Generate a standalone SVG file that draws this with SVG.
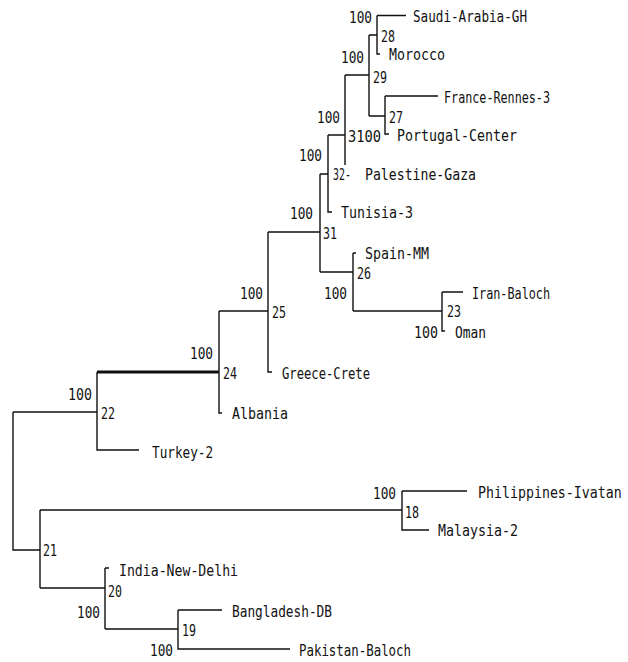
<svg xmlns="http://www.w3.org/2000/svg" width="628" height="662" viewBox="0 0 628 662">
<style>
text{font-family:"DejaVu Sans Mono","Liberation Mono",monospace;font-size:16px;fill:#111}
.c line,.c path{stroke:#111;stroke-width:1.4;fill:none}
.thick{stroke-width:2.8 !important}
</style>
<rect width="628" height="662" fill="#fff"/>
<g class="c" id="connectors">
<path d="M377,15.5H406 M377,15.5V54H380 M369,35H377 M369,35V116 M345,75H369 M369,116H385 M385,96H438 M385,96V134H389"/>
<path d="M345,75V165 M328,135H345 M328,135V212H332 M320,174H328 M320,174V272 M268,232H320 M320,272H353"/>
<path d="M353,253H356 M353,253V311 M353,311H442 M442,292H463 M442,292V331H445"/>
<path d="M268,232V372H272 M219,311H268 M219,311V413H222 M97,372V450H139 M13,412H97 M13,412V550H40"/>
<line class="thick" x1="97" y1="372" x2="219" y2="372"/>
<path d="M40,510V588 M40,510H402 M402,491H467 M402,491V530H429 M40,588H105 M105,568H109 M105,568V629 M105,629H178 M178,610H222 M178,610V649H290"/>
</g>
<g id="n28"><text x="349" y="23" textLength="23" lengthAdjust="spacingAndGlyphs">100</text><text x="381" y="42" textLength="14" lengthAdjust="spacingAndGlyphs">28</text></g>
<g id="saudi"><text x="413" y="22" textLength="114" lengthAdjust="spacingAndGlyphs">Saudi-Arabia-GH</text></g>
<g id="morocco"><text x="389" y="60" textLength="56" lengthAdjust="spacingAndGlyphs">Morocco</text></g>
<g id="n29"><text x="341" y="63" textLength="23" lengthAdjust="spacingAndGlyphs">100</text><text x="373" y="83" textLength="14" lengthAdjust="spacingAndGlyphs">29</text></g>
<g id="n27"><text x="389" y="123" textLength="14" lengthAdjust="spacingAndGlyphs">27</text></g>
<g id="france"><text x="444" y="103" textLength="106" lengthAdjust="spacingAndGlyphs">France-Rennes-3</text></g>
<g id="portugal"><text x="397" y="141" textLength="120" lengthAdjust="spacingAndGlyphs">Portugal-Center</text></g>
<g id="n30"><text x="317" y="123" textLength="23" lengthAdjust="spacingAndGlyphs">100</text><text x="348" y="142" textLength="33" lengthAdjust="spacingAndGlyphs">3100</text></g>
<g id="n32"><text x="299" y="161" textLength="23" lengthAdjust="spacingAndGlyphs">100</text><text x="333" y="180" textLength="18" lengthAdjust="spacingAndGlyphs">32-</text></g>
<g id="palestine"><text x="365" y="180" textLength="111" lengthAdjust="spacingAndGlyphs">Palestine-Gaza</text></g>
<g id="tunisia"><text x="341" y="218" textLength="72" lengthAdjust="spacingAndGlyphs">Tunisia-3</text></g>
<g id="n31"><text x="290" y="219" textLength="23" lengthAdjust="spacingAndGlyphs">100</text><text x="323" y="239" textLength="14" lengthAdjust="spacingAndGlyphs">31</text></g>
<g id="spain"><text x="365" y="259" textLength="64" lengthAdjust="spacingAndGlyphs">Spain-MM</text></g>
<g id="n26"><text x="324" y="299" textLength="23" lengthAdjust="spacingAndGlyphs">100</text><text x="357" y="279" textLength="14" lengthAdjust="spacingAndGlyphs">26</text></g>
<g id="iran"><text x="472" y="299" textLength="78" lengthAdjust="spacingAndGlyphs">Iran-Baloch</text></g>
<g id="n23"><text x="414" y="338" textLength="24" lengthAdjust="spacingAndGlyphs">100</text><text x="447" y="317" textLength="14" lengthAdjust="spacingAndGlyphs">23</text></g>
<g id="oman"><text x="455" y="338" textLength="31" lengthAdjust="spacingAndGlyphs">Oman</text></g>
<g id="n25"><text x="240" y="299" textLength="23" lengthAdjust="spacingAndGlyphs">100</text><text x="272" y="318" textLength="14" lengthAdjust="spacingAndGlyphs">25</text></g>
<g id="greece"><text x="282" y="379" textLength="88" lengthAdjust="spacingAndGlyphs">Greece-Crete</text></g>
<g id="n24"><text x="190" y="359" textLength="23" lengthAdjust="spacingAndGlyphs">100</text><text x="223" y="379" textLength="14" lengthAdjust="spacingAndGlyphs">24</text></g>
<g id="albania"><text x="232" y="419" textLength="56" lengthAdjust="spacingAndGlyphs">Albania</text></g>
<g id="n22"><text x="68" y="400" textLength="24" lengthAdjust="spacingAndGlyphs">100</text><text x="101" y="419" textLength="14" lengthAdjust="spacingAndGlyphs">22</text></g>
<g id="turkey"><text x="152" y="458" textLength="61" lengthAdjust="spacingAndGlyphs">Turkey-2</text></g>
<g id="n18"><text x="373" y="499" textLength="23" lengthAdjust="spacingAndGlyphs">100</text><text x="405" y="518" textLength="14" lengthAdjust="spacingAndGlyphs">18</text></g>
<g id="philippines"><text transform="translate(478,498) scale(0.83,1)" x="0" y="0">Philippines-Ivatan</text></g>
<g id="malaysia"><text x="438" y="536" textLength="80" lengthAdjust="spacingAndGlyphs">Malaysia-2</text></g>
<g id="n21"><text x="43" y="556" textLength="14" lengthAdjust="spacingAndGlyphs">21</text></g>
<g id="india"><text x="119" y="576" textLength="119" lengthAdjust="spacingAndGlyphs">India-New-Delhi</text></g>
<g id="n20"><text x="77" y="618" textLength="23" lengthAdjust="spacingAndGlyphs">100</text><text x="108" y="597" textLength="14" lengthAdjust="spacingAndGlyphs">20</text></g>
<g id="bangladesh"><text x="232" y="617" textLength="100" lengthAdjust="spacingAndGlyphs">Bangladesh-DB</text></g>
<g id="n19"><text x="150" y="656" textLength="23" lengthAdjust="spacingAndGlyphs">100</text><text x="182" y="636" textLength="14" lengthAdjust="spacingAndGlyphs">19</text></g>
<g id="pakistan"><text x="299" y="656" textLength="112" lengthAdjust="spacingAndGlyphs">Pakistan-Baloch</text></g>
</svg>
